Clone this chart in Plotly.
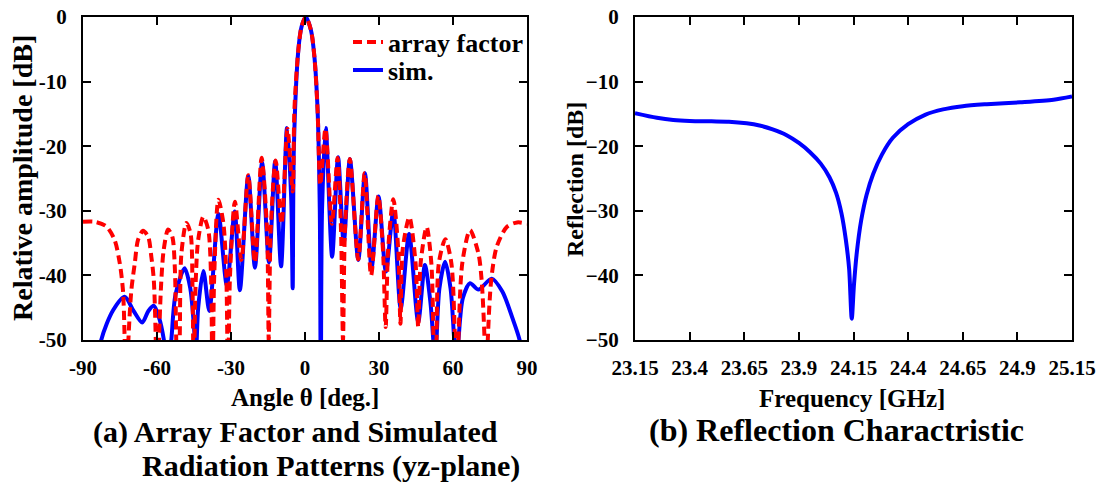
import plotly.graph_objects as go

# ---------------- data: (a) radiation patterns ----------------
af_theta = [-90, -85.3, -80.6, -77.2, -75.1, -73.8, -73.1, -72.5, -71.6, -70.4, -69.0, -67.7, -65.7,
            -63.6, -62.3, -61.3, -60.5, -60.0, -59.2, -58.3, -57.3, -55.5, -53.8, -52.8, -52.2, -51.6,
            -50.8, -50.1, -48.1, -46.4, -45.6, -45.1, -44.4, -43.3, -41.2, -39.2, -38.1, -37.5, -36.8,
            -35.1, -33.1, -31.9, -31.2, -30.4, -28.4, -25.8, -23.0, -20.3, -17.6, -15.4, -14.7, -13.9,
            -11.9, -9.5, -7.1, -5.0, -4.3, -2.7, -1.4, 0.3, 2.4, 3.8, 5.1, 6.2, 8.3, 10.9, 13.2, 14.6,
            15.4, 16.2, 18.2, 21.6, 24.2, 26.8, 29.7, 31.6, 32.7, 33.7, 35.8, 37.8, 38.7, 39.6, 42.3,
            44.8, 45.9, 46.9, 49.3, 51.2, 52.1, 52.7, 53.3, 54.3, 56.9, 59.3, 60.8, 61.5, 62.2, 63.8,
            66.9, 70.3, 71.6, 72.8, 73.4, 74.1, 75.5, 77.7, 81.8, 86.0, 90.0]
af_db = [-31.7, -31.7, -32.4, -34.5, -38.1, -42.3, -50, -60, -50, -42.3, -38.1, -34.5, -33.1,
         -34.0, -37.1, -40.7, -50, -60, -50, -41.2, -36.1, -32.9, -34.0, -38.6, -50, -60,
         -50, -36.6, -31.9, -33.5, -42, -58, -42, -34.5, -30.9, -33.0, -40, -58, -40,
         -28.3, -31.9, -40, -58, -40, -28.6, -37.6, -24.5, -38, -21.8, -33, -50, -33,
         -22.2, -32, -17.3, -27, -14.4, -5.1, -1.5, 0, -2, -6.1, -14.4, -26, -17.3, -32, -21.8, -33,
         -50, -33, -22.0, -37.5, -24.2, -40, -27.7, -36, -48, -36, -28.2, -36, -47.5, -36, -31,
         -38, -48, -38, -32.5, -38, -50, -60, -50, -38, -34.4, -38, -50, -60, -50, -38,
         -33.0, -36.6, -40.7, -50, -60, -50, -40.7, -35.6, -32.5, -31.8, -32.0]

sim_theta = [-85, -82.6, -77.8, -73.1, -69.5, -66.0, -63.5, -61.3, -59.2, -57.2, -55.6, -54.2, -52.5,
             -48.8, -46.5, -45.0, -44.2, -43.3, -41.2, -38.8, -35.1, -31.7, -28.5, -26.4, -23.0, -20.3,
             -17.4, -14.6, -12.1, -9.7, -7.3, -5.6, -5.0, -4.5, -2.7, -1.4, 0.3, 2.4, 3.8, 5.1, 6.0,
             6.4, 6.9, 8.4, 11.0, 13.4, 15.7, 18.2, 21.6, 24.3, 27.0, 29.8, 32.8, 35.8, 38.8, 42.2,
             45.9, 48.6, 50.8, 52.0, 52.6, 53.3, 54.5, 56.8, 59.0, 60.5, 61.3, 62.2, 64.0, 66.9, 70.3,
             75.7, 80.0, 84.0, 87.0, 89.0]
sim_db = [-58, -50, -45.4, -43.3, -45.5, -47.3, -45.5, -44.7, -46.5, -50, -55, -50, -43,
          -38.9, -42, -48, -52, -45, -39.3, -45.5, -30.5, -41.5, -30.1, -42.3, -24.6, -38.8,
          -22.5, -38, -22.3, -38.6, -17.2, -28, -42, -20, -5.1, -1.5, 0, -2, -6.1, -14.4, -30,
          -60, -30, -17.2, -37.1, -21.7, -35, -22, -37.6, -24.2, -38.8, -27.8, -39.4, -30.1, -45.1, -33.6,
          -47.2, -38.4, -44, -50, -54, -50, -42, -37.9, -42, -50, -54, -50, -43.5, -41.2, -42.2,
          -40.5, -42.5, -46.5, -50, -55]

angle_ticks = [-90, -60, -30, 0, 30, 60, 90]
angle_ticktext = ["-90", "-60", "-30", "0", "30", "60", "90"]
amp_ticks = [0, -10, -20, -30, -40, -50]
amp_ticktext = ["0", "-10", "-20", "-30", "-40", "-50"]

# ---------------- data: (b) reflection ----------------
freq_ghz = [23.15, 23.25, 23.325, 23.40, 23.50, 23.58, 23.661, 23.72, 23.78, 23.844, 23.90, 23.95,
            24.00, 24.04, 24.07, 24.095, 24.115, 24.13, 24.142, 24.152, 24.165, 24.185, 24.21,
            24.24, 24.28, 24.33, 24.40, 24.48, 24.56, 24.65, 24.76, 24.913, 25.065, 25.15]
refl_db = [-14.9, -15.6, -15.95, -16.1, -16.15, -16.2, -16.45, -16.8, -17.4, -18.3, -19.5, -20.9,
           -22.7, -24.8, -27.2, -30.4, -34.5, -39.0, -46.7, -41.5, -36.5, -31.5, -27.5,
           -24.3, -21.3, -18.7, -16.6, -15.1, -14.3, -13.8, -13.5, -13.2, -12.8, -12.3]

freq_ticks = [23.15, 23.4, 23.65, 23.9, 24.15, 24.4, 24.65, 24.9, 25.15]
freq_ticktext = ["23.15", "23.4", "23.65", "23.9", "24.15", "24.4", "24.65", "24.9", "25.15"]
refl_ticks = [0, -10, -20, -30, -40, -50]
refl_ticktext = ["0", "\u221210", "\u221220", "\u221230", "\u221240", "\u221250"]

# ---------------- figure ----------------
W, H = 1107, 484
FONT = "Liberation Serif"

def px_x(p):
    return p / W

def px_y(p):
    return 1 - p / H

fig = go.Figure()

fig.add_trace(go.Scatter(x=sim_theta, y=sim_db, mode="lines", name="sim.",
                         line=dict(color="#0000ff", width=4, shape="spline", smoothing=0.8),
                         legend="legend2", xaxis="x", yaxis="y"))
fig.add_trace(go.Scatter(x=af_theta, y=af_db, mode="lines", name="array factor",
                         line=dict(color="#ff0000", width=4, dash="9px,5px", shape="spline", smoothing=0.8),
                         legend="legend", xaxis="x", yaxis="y"))
fig.add_trace(go.Scatter(x=freq_ghz, y=refl_db, mode="lines", showlegend=False,
                         line=dict(color="#0000ff", width=4, shape="spline", smoothing=0.8),
                         xaxis="x2", yaxis="y2"))

tickfont = dict(family=FONT, size=21, color="black", weight="bold")
axis_common = dict(showline=True, linewidth=2, linecolor="black", mirror="ticks",
                   ticks="inside", ticklen=8, tickwidth=2, tickcolor="black",
                   showgrid=False, zeroline=False, tickfont=tickfont, automargin=False)

ydom = [px_y(340), px_y(17)]
legfont = dict(family=FONT, size=26, color="black", weight="bold")

fig.update_layout(
    width=W, height=H,
    margin=dict(l=0, r=0, t=0, b=0, autoexpand=False),
    paper_bgcolor="white", plot_bgcolor="white",
    xaxis=dict(domain=[px_x(83), px_x(527)], range=[-90, 90], tickvals=angle_ticks,
               ticktext=angle_ticktext, ticklabelstandoff=8, anchor="y", **axis_common),
    yaxis=dict(domain=ydom, range=[-50, 0], tickvals=amp_ticks, ticktext=amp_ticktext,
               ticklabelstandoff=10, anchor="x", **axis_common),
    xaxis2=dict(domain=[px_x(635), px_x(1072)], range=[23.15, 25.15], tickvals=freq_ticks,
                ticktext=freq_ticktext, ticklabelstandoff=8, anchor="y2", **axis_common),
    yaxis2=dict(domain=ydom, range=[-50, 0], tickvals=refl_ticks, ticktext=refl_ticktext,
                ticklabelstandoff=10, anchor="x2", **axis_common),
    legend=dict(x=px_x(348), y=px_y(42), xanchor="left", yanchor="middle",
                bgcolor="rgba(0,0,0,0)", borderwidth=0, font=legfont, itemwidth=30),
    legend2=dict(x=px_x(348), y=px_y(70), xanchor="left", yanchor="middle",
                 bgcolor="rgba(0,0,0,0)", borderwidth=0, font=legfont, itemwidth=30),
    showlegend=True,
)

def ann(text, x, y, size, xanchor="center", angle=0):
    fig.add_annotation(text=text, x=px_x(x), y=px_y(y), xref="paper", yref="paper",
                       xanchor=xanchor, yanchor="middle", showarrow=False, textangle=angle,
                       font=dict(family=FONT, size=size, color="black", weight="bold"))

ann("Angle \u03b8 [deg.]", 305, 397, 25)
ann("Relative amplitude [dB]", 22, 178, 28, angle=-90)
ann("Frequency [GHz]", 852, 398, 25)
ann("Reflection [dB]", 575, 180, 24, angle=-90)
ann("(a) Array Factor and Simulated", 91, 432, 30, xanchor="left")
ann("Radiation Patterns (yz-plane)", 140, 466, 30, xanchor="left")
ann("(b) Reflection Charactristic", 836, 430, 32)

fig.write_html("out.html", config={"displayModeBar": False},
               post_script="document.body.style.margin='0';")
